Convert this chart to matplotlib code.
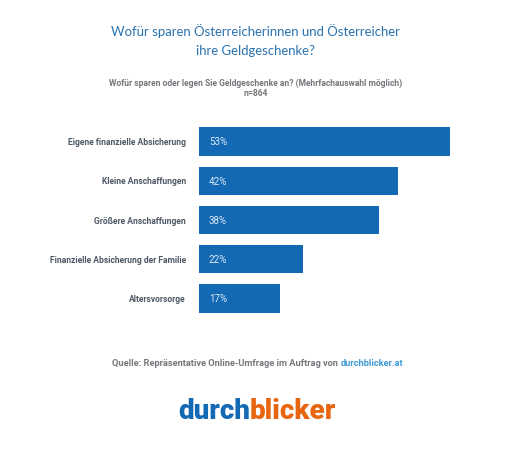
"""Horizontal bar chart: what Austrians save their money gifts for."""
import matplotlib
matplotlib.use("Agg")
import matplotlib.pyplot as plt

categories = ["Eigene finanzielle Absicherung", "Kleine Anschaffungen",
              "Größere Anschaffungen", "Finanzielle Absicherung der Familie",
              "Altersvorsorge"]
values = [53, 42, 38, 22, 17]

W, H = 512, 461
BLUE = "#1369b3"
plt.rcParams["font.family"] = ["Roboto", "DejaVu Sans"]


def fx(px):
    return px / W


def fy(px):
    return 1 - px / H


fig = plt.figure(figsize=(W / 100, H / 100), dpi=100, facecolor="white")

# axes: top of first slot to bottom of last slot, x scale from the bar widths
ax = fig.add_axes([fx(199), fy(318.1), fx(300), (318.1 - 121.9) / H])
ys = list(range(len(categories)))
ax.barh(ys, values, height=0.72, color=BLUE)
ax.set_xlim(0, 300 / 4.74)
ax.set_ylim(len(categories) - 0.5, -0.5)
ax.set_yticks(ys)
ax.set_yticklabels(categories, fontsize=6.15, fontweight="bold", color="#4d5966",
                   va="center_baseline")
ax.set_xticks([])
ax.tick_params(axis="y", length=0, pad=9.4)
for side in ax.spines:
    ax.spines[side].set_visible(False)
for y, v in zip(ys, values):
    ax.annotate(f"{v}%", (0, y), xytext=(7, -0.6), textcoords="offset points",
                va="center", ha="left", fontsize=7, color="#dbe9f5")

fig.text(fx(255.5), fy(31), "Wofür sparen Österreicherinnen und Österreicher",
         ha="center", va="center", fontsize=9.45, color="#2a72b0", family="Lato")
fig.text(fx(255.5), fy(51), "ihre Geldgeschenke?",
         ha="center", va="center", fontsize=9.45, color="#2a72b0", family="Lato")
fig.text(fx(255.5), fy(83), "Wofür sparen oder legen Sie Geldgeschenke an? (Mehrfachauswahl möglich)",
         ha="center", va="center", fontsize=6.15, fontweight="bold", color="#74777b")
fig.text(fx(255.5), fy(94), "n=864",
         ha="center", va="center", fontsize=6.15, fontweight="bold", color="#74777b")

# source line: two colours, so place the second part after the first
src = fig.text(fx(112.5), fy(363), "Quelle: Repräsentative Online-Umfrage im Auftrag von ",
               ha="left", va="center", fontsize=6.63, fontweight="bold", color="#74777b")
fig.canvas.draw()
r = fig.canvas.get_renderer()
x1 = src.get_window_extent(r).x1
fig.text(x1 / W, fy(363), "durchblicker.at", ha="left", va="center",
         fontsize=6.63, fontweight="bold", color="#3d9ad6")

# logo as two-coloured text
logo = fig.text(fx(178), fy(411), "durch", ha="left", va="center", fontsize=20,
                fontweight="black", color="#1369b3", family="Roboto")
x1 = logo.get_window_extent(r).x1
fig.text(x1 / W, fy(411), "blicker", ha="left", va="center", fontsize=20,
         fontweight="black", color="#e8660f", family="Roboto")

fig.savefig("out.png", dpi=100, facecolor="white")
